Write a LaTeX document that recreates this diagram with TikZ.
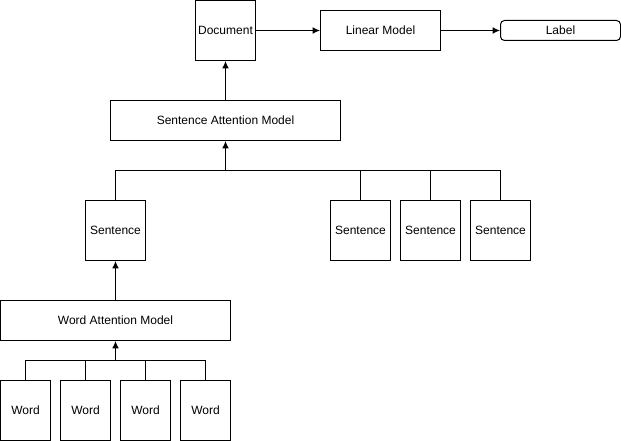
\documentclass[tikz,border=0pt]{standalone}
\usepackage{fontspec}
\setmainfont{Liberation Sans}
\usepackage{tikz}
\usetikzlibrary{positioning, arrows.meta}

\begin{document}
\begin{tikzpicture}[x=0.75pt,y=-0.75pt,
box/.style={draw, line width=0.75pt, inner sep=0pt, font=\fontsize{9}{11}\selectfont},
sq/.style={box, minimum width=45pt, minimum height=45pt},
wide/.style={box, minimum width=172.5pt, minimum height=30pt},
wordbox/.style={box, minimum width=37.5pt, minimum height=45pt},
arr/.style={-{Latex[length=5.5pt,width=5pt]}, line width=0.75pt},
bus/.style={line width=0.75pt}]

\useasboundingbox (-0.5,-0.5) rectangle (620.5,440.5);

% top row
\node[sq] (doc) at (225,30) {Document};
\node[box, minimum width=90pt, minimum height=30pt] (lin) at (380,30) {Linear Model};
\node[box, rounded corners=3pt, minimum width=90pt, minimum height=15pt] (lab) at (560,30) {Label};

% sentence level
\node[wide] (sam) at (225,120) {Sentence Attention Model};
\node[sq] (s1) at (115,230) {Sentence};
\node[sq] (s2) at (360,230) {Sentence};
\node[sq] (s3) at (430,230) {Sentence};
\node[sq] (s4) at (500,230) {Sentence};

% word level
\node[wide] (wam) at (115,320) {Word Attention Model};
\node[wordbox] (w1) at (25,410) {Word};
\node[wordbox] (w2) at (85,410) {Word};
\node[wordbox] (w3) at (145,410) {Word};
\node[wordbox] (w4) at (205,410) {Word};

\coordinate (sbus) at (225,170);
\coordinate (wbus) at (115,360);

% connectors
\foreach \n in {w1,w2,w3,w4} \draw[bus] (\n.north) |- (wbus);
\draw[arr] (wbus) -- (wam.south);
\draw[arr] (wam.north) -- (s1.south);
\foreach \n in {s1,s2,s3,s4} \draw[bus] (\n.north) |- (sbus);
\draw[arr] (sbus) -- (sam.south);
\draw[arr] (sam.north) -- (doc.south);
\draw[arr] (doc.east) -- (lin.west);
\draw[arr] (lin.east) -- (lab.west);
\end{tikzpicture}
\end{document}
